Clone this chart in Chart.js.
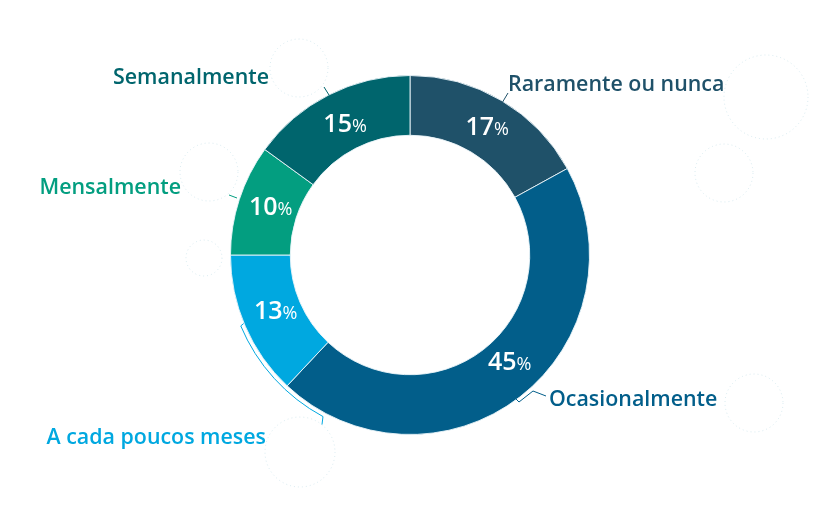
<!DOCTYPE html>
<html>
<head>
<meta charset="utf-8">
<style>
  html, body { margin: 0; padding: 0; background: #ffffff; }
  #wrap { width: 839px; height: 517px; position: relative; }
</style>
<script src="https://cdn.jsdelivr.net/npm/chart.js@4.4.1/dist/chart.umd.min.js"></script>
</head>
<body>
<div id="wrap"><canvas id="myChart" width="839" height="517"></canvas></div>
<script>
// data
var categories = ["Raramente ou nunca", "Ocasionalmente", "A cada poucos meses", "Mensalmente", "Semanalmente"];
var shares = [17, 45, 13, 10, 15];
var sliceColors = ["#1f5169", "#025e8a", "#00a8e0", "#039e80", "#00656d"];

// where the outside labels sit (layout only)
var labelLayout = [
  { x: 508, y: 85,  align: "left",  line: [[502, 103], [508, 93]] },
  { x: 549, y: 400, align: "left",  line: [[516, 399], [519, 402], [533, 391], [546, 396]] },
  { x: 266, y: 438, align: "right", line: null },
  { x: 181, y: 188, align: "right", line: [[229, 195], [237, 198]] },
  { x: 269, y: 78,  align: "right", line: [[324, 87], [329, 95]] }
];
// nudges for the % text inside the ring
var pctNudge = [[1, 2], [8, -10], [3, -3], [3, -1], [3, 3]];
// faint dotted decoration circles
var decoCircles = [[299, 68, 29], [209, 172, 29], [204, 258, 18], [300, 452, 35], [754, 403, 29], [766, 97, 42], [724, 173, 29]];

var decoPlugin = {
  id: 'deco',
  beforeDraw: function (chart) {
    var c = chart.ctx;
    c.save();
    c.strokeStyle = 'rgba(170,210,222,0.45)';
    c.lineWidth = 1;
    c.setLineDash([1, 3]);
    decoCircles.forEach(function (d) {
      c.beginPath();
      c.arc(d[0], d[1], d[2], 0, Math.PI * 2);
      c.stroke();
    });
    c.restore();
  },
  afterDatasetsDraw: function (chart) {
    var c = chart.ctx;
    var meta = chart.getDatasetMeta(0);
    c.save();
    meta.data.forEach(function (arc, i) {
      // percentage inside slice
      var p = arc.tooltipPosition();
      var x = p.x + pctNudge[i][0], y = p.y + pctNudge[i][1];
      var num = String(shares[i]);
      c.fillStyle = '#ffffff';
      c.textBaseline = 'middle';
      c.font = '600 25px "Open Sans"';
      var w1 = c.measureText(num).width;
      c.font = '500 18px "Open Sans"';
      var w2 = c.measureText('%').width;
      var sx = x - (w1 + w2) / 2;
      c.textAlign = 'left';
      c.font = '600 25px "Open Sans"';
      c.fillText(num, sx, y);
      c.font = '500 18px "Open Sans"';
      c.fillText('%', sx + w1, y + 2);

      // outside label
      var L = labelLayout[i];
      c.fillStyle = sliceColors[i];
      c.font = '600 21.4px "Open Sans"';
      c.textAlign = L.align;
      c.fillText(categories[i], L.x, L.y);

      c.strokeStyle = sliceColors[i];
      c.lineWidth = 1;
      if (L.line) {
        c.beginPath();
        c.moveTo(L.line[0][0], L.line[0][1]);
        for (var k = 1; k < L.line.length; k++) c.lineTo(L.line[k][0], L.line[k][1]);
        c.stroke();
      } else {
        // bracket running outside the ring for "A cada poucos meses"
        var r = arc.outerRadius + 4;
        var a0 = arc.startAngle + 0.42, a1 = arc.startAngle - 0.26;
        c.beginPath();
        c.moveTo(arc.x + (r - 1) * Math.cos(a0) + 2, arc.y + (r - 1) * Math.sin(a0) - 2);
        c.arc(arc.x, arc.y, r, a0, a1, true);
        c.lineTo(arc.x + r * Math.cos(a1) - 1, arc.y + r * Math.sin(a1) + 8);
        c.stroke();
      }
    });
    c.restore();
  }
};

var ctx = document.getElementById("myChart").getContext('2d');
var myChart = new Chart(ctx, {
  type: 'doughnut',
  data: {
    labels: categories,
    datasets: [{
      data: shares,
      backgroundColor: sliceColors,
      borderColor: 'rgba(235,245,250,0.9)',
      borderWidth: 1
    }]
  },
  options: {
    responsive: false,
    animation: false,
    cutout: '66.7%',
    layout: { padding: { top: 75, bottom: 82, left: 100, right: 119 } },
    plugins: {
      legend: { display: false },
      tooltip: { enabled: false }
    }
  },
  plugins: [decoPlugin]
});
</script>
</body>
</html>
